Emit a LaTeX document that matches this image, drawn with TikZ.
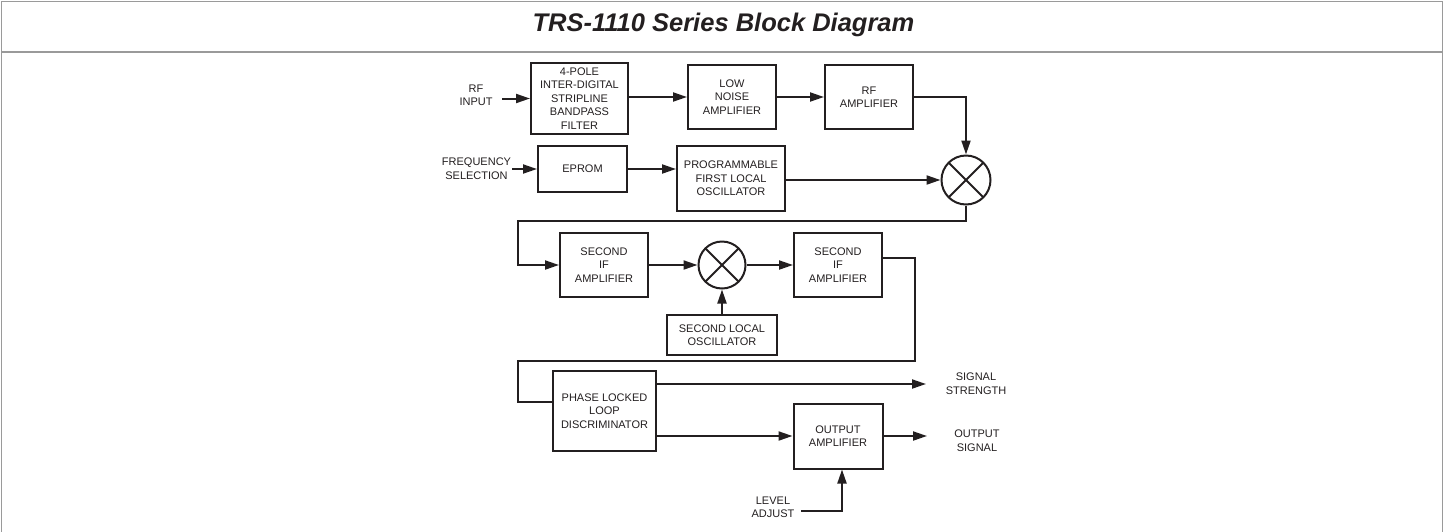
\documentclass[tikz,border=0pt]{standalone}
\usepackage{fontspec}
\setmainfont{Liberation Sans}
\usetikzlibrary{arrows.meta}
\definecolor{ink}{HTML}{231F20}
\definecolor{framegray}{HTML}{9A9A9A}

\begin{document}
\begin{tikzpicture}[x=1pt, y=-1pt]
	\tikzstyle{comp} = [
		rectangle, draw=ink, line width=2pt, inner sep=0pt, align=center,
		text=ink, font=\fontsize{11}{13.5}\selectfont
	]
	\tikzstyle{block} = [
		comp, minimum width=88pt, minimum height=64pt
	]
	\tikzstyle{mixer} = [
		circle, draw=ink, line width=2pt, inner sep=0pt, minimum size=49pt,
		path picture={\draw[ink, line width=1.9pt]
			(path picture bounding box.north west) -- (path picture bounding box.south east)
			(path picture bounding box.north east) -- (path picture bounding box.south west);}
	]
	\tikzstyle{caption} = [
		align=center, inner sep=0pt, text=ink, font=\fontsize{11}{13.5}\selectfont
	]
	\tikzstyle{wire} = [
		draw=ink, line width=2pt
	]
	\tikzstyle{conn} = [
		wire, -{Triangle[length=14pt, width=9pt]}
	]

	% Frame
	\useasboundingbox (0,0) rectangle (1444,531);
	\draw[framegray, line width=1.5pt] (1.5,1.5) rectangle (1442.5,560);
	\draw[framegray, line width=1.5pt] (1.5,52) -- (1442.5,52);
	\node (Title) [anchor=base, text=ink, font=\fontsize{25.5}{30}\selectfont\bfseries\itshape] at (723.5,31) {TRS-1110 Series Block Diagram};

	% RF chain
	\node (Filter) [comp, minimum width=97pt, minimum height=71pt] at (579.5,98.5) {4-POLE\\INTER-DIGITAL\\STRIPLINE\\BANDPASS\\FILTER};
	\node (LNA) [block] at (732,97) {LOW\\NOISE\\AMPLIFIER};
	\node (RFAmp) [block] at (869,97) {RF\\AMPLIFIER};

	% First local oscillator
	\node (EPROM) [comp, minimum width=89pt, minimum height=46pt] at (582.5,169) {EPROM};
	\node (LO1) [comp, minimum width=108pt, minimum height=65pt] at (731,178.5) {PROGRAMMABLE\\FIRST LOCAL\\OSCILLATOR};
	\node (Mixer1) [mixer] at (966,180) {};

	% Second IF
	\node (IF1) [block] at (604,265) {SECOND\\IF\\AMPLIFIER};
	\node (Mixer2) [mixer, minimum size=47pt] at (722,265) {};
	\node (IF2) [block] at (838,265) {SECOND\\IF\\AMPLIFIER};
	\node (LO2) [comp, minimum width=110pt, minimum height=40pt] at (722,335) {SECOND LOCAL\\OSCILLATOR};

	% Discriminator / output
	\node (PLL) [comp, minimum width=103pt, minimum height=80pt] at (604.5,411) {PHASE LOCKED\\LOOP\\DISCRIMINATOR};
	\node (OutAmp) [comp, minimum width=89pt, minimum height=65pt] at (838,436) {OUTPUT\\AMPLIFIER};

	% Captions
	\node (RFIn) [caption] at (476,95.5) {RF\\INPUT};
	\node (FreqSel) [caption] at (476.5,168.5) {FREQUENCY\\SELECTION};
	\node (SigStr) [caption] at (976,383.5) {SIGNAL\\STRENGTH};
	\node (OutSig) [caption] at (977,440.5) {OUTPUT\\SIGNAL};
	\node (LevelAdj) [caption] at (773,507.5) {LEVEL\\ADJUST};

	% helper points
	\coordinate (k1) at (518,221);
	\coordinate (k2) at (915,361);
	\coordinate (k3) at (518,361);
	\coordinate (k4) at (842,511);
	\coordinate (SigStr_in) at (926,384);
	\coordinate (OutSig_in) at (927,436);

	% RF path
	\draw[conn] ([xshift=9.5pt]RFIn.east |- Filter.west) -- (Filter.west);
	\draw[conn] (Filter.east |- LNA.west) -- (LNA.west);
	\draw[conn] (LNA) -- (RFAmp);
	\draw[conn] (RFAmp.east) -| (Mixer1.north);

	% LO path
	\draw[conn] ([xshift=1pt]FreqSel.east |- EPROM.west) -- (EPROM.west);
	\draw[conn] (EPROM.east) -- (EPROM.east -| LO1.west);
	\draw[conn] (LO1.east |- Mixer1.west) -- (Mixer1.west);

	% IF path
	\draw[conn] (Mixer1.south) |- (k1) |- (IF1.west);
	\draw[conn] (IF1) -- (Mixer2);
	\draw[conn] (Mixer2) -- (IF2);
	\draw[conn] (LO2) -- (Mixer2);
	\draw[wire] ([yshift=7pt]IF2.east) -| (k2) -- (k3) |- ([yshift=9pt]PLL.west);

	% outputs
	\draw[conn] (PLL.east |- SigStr_in) -- (SigStr_in);
	\draw[conn] (PLL.east |- OutAmp.west) -- (OutAmp.west);
	\draw[conn] (OutAmp.east) -- (OutSig_in);
	\draw[conn] ([xshift=6.5pt]LevelAdj.east |- k4) -- (k4) -- (k4 |- OutAmp.south);
\end{tikzpicture}
\end{document}
